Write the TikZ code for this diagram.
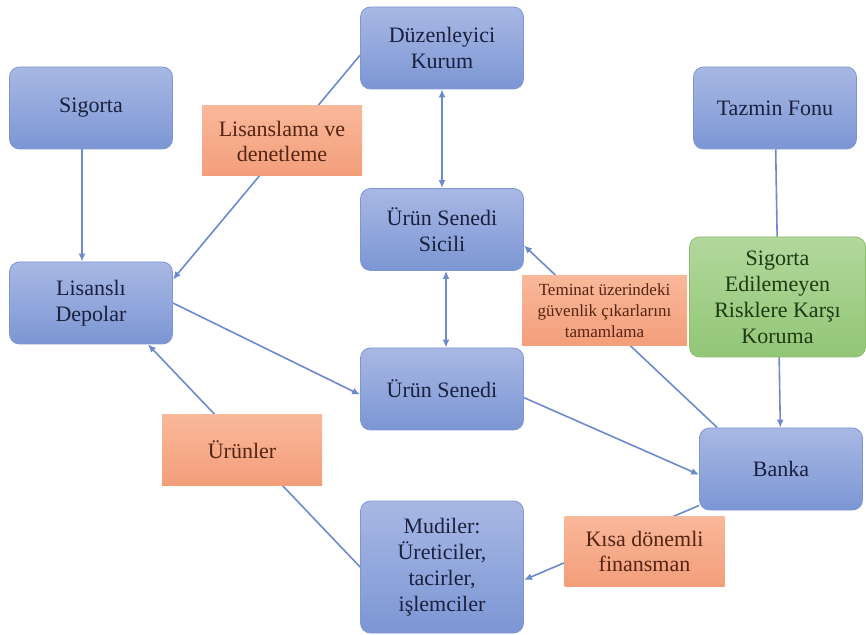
\documentclass[tikz,border=0pt]{standalone}
\usepackage{fontspec}
\setmainfont{Liberation Serif}
\newfontfamily\kutuyazi{Liberation Serif}
\usetikzlibrary{arrows.meta,backgrounds,shadings}
\definecolor{mavia}{RGB}{168,184,228}
\definecolor{mavib}{RGB}{124,150,212}
\definecolor{kenar}{RGB}{128,150,210}
\definecolor{koyu}{RGB}{26,32,62}
\definecolor{turuncua}{RGB}{249,184,154}
\definecolor{turuncub}{RGB}{243,158,122}
\definecolor{kahve}{RGB}{84,36,20}
\definecolor{yesila}{RGB}{178,216,156}
\definecolor{yesilb}{RGB}{146,198,118}
\definecolor{yesilkenar}{RGB}{140,190,110}
\definecolor{yazi}{RGB}{30,58,20}
\definecolor{okrengi}{RGB}{108,138,204}
\tikzset{
	kutu/.style={draw=kenar,rounded corners=5pt,top color=mavia,bottom color=mavib,text=koyu,align=center,
		minimum width=81.5pt,minimum height=41pt,inner sep=0pt,font=\kutuyazi\fontsize{11}{13}\selectfont},
	yesilkutu/.style={kutu,draw=yesilkenar,top color=yesila,bottom color=yesilb,text=yazi,minimum width=88pt,minimum height=60pt},
	etiket/.style={top color=turuncua,bottom color=turuncub,text=kahve,align=center,
		minimum width=80pt,minimum height=35pt,inner sep=0pt,font=\kutuyazi\fontsize{11}{12.5}\selectfont},
	ok/.style={draw=okrengi,line width=0.8pt,->}
}
\begin{document}
\begin{tikzpicture}[x=0.5pt,y=-0.5pt,>={Latex[length=4pt,width=3.5pt]}]
			\useasboundingbox (0,0) rectangle (866,635);
			\node[kutu](sig) at (91,108){Sigorta};
			\node[kutu](duz) at (442,48){Düzenleyici\\Kurum};
			\node[kutu](taz) at (775,108){Tazmin Fonu};
			\node[kutu](sic) at (442,229.5){Ürün Senedi\\Sicili};
			\node[kutu](lis) at (91,303){Lisanslı\\Depolar};
			\node[kutu](sen) at (442,389){Ürün Senedi};
			\node[kutu](ban) at (781,469){Banka};
			\node[kutu,minimum height=66pt](mud) at (442,567){Mudiler:\\Üreticiler,\\tacirler,\\işlemciler};
			\node[yesilkutu](kor) at (777.5,297){Sigorta\\Edilemeyen\\Risklere Karşı\\Koruma};
			\node[etiket](lden) at (282,141){Lisanslama ve\\denetleme};
			\node[etiket,minimum width=82.5pt,font=\kutuyazi\fontsize{8.5}{10.5}\selectfont](tem) at (604.5,310.5){Teminat üzerindeki\\güvenlik çıkarlarını\\tamamlama};
			\node[etiket](urn) at (242,450){Ürünler};
			\node[etiket](kisa) at (644.5,551){Kısa dönemli\\finansman};
			\begin{scope}[on background layer]
			\draw[ok]([xshift=-4.5pt]sig.south)--([xshift=-4.5pt]lis.north);
			\draw[ok](duz.185)--(lis.16);
			\draw[ok,<->](duz)--(sic);
			\draw[ok,<->]([xshift=2pt]sic.south)--([xshift=2pt]sen.north);
			\draw[ok](lis.east)--(sen.184);
			\draw[ok](sen.354)--(ban.184);
			\draw[ok](ban.147)--(sic.349);
			\draw[ok](taz)--(ban);
			\draw[ok](mud.west)--(lis.324);
			\draw[ok](ban.204)--(mud.351);
			\end{scope}
		\end{tikzpicture}
\end{document}
